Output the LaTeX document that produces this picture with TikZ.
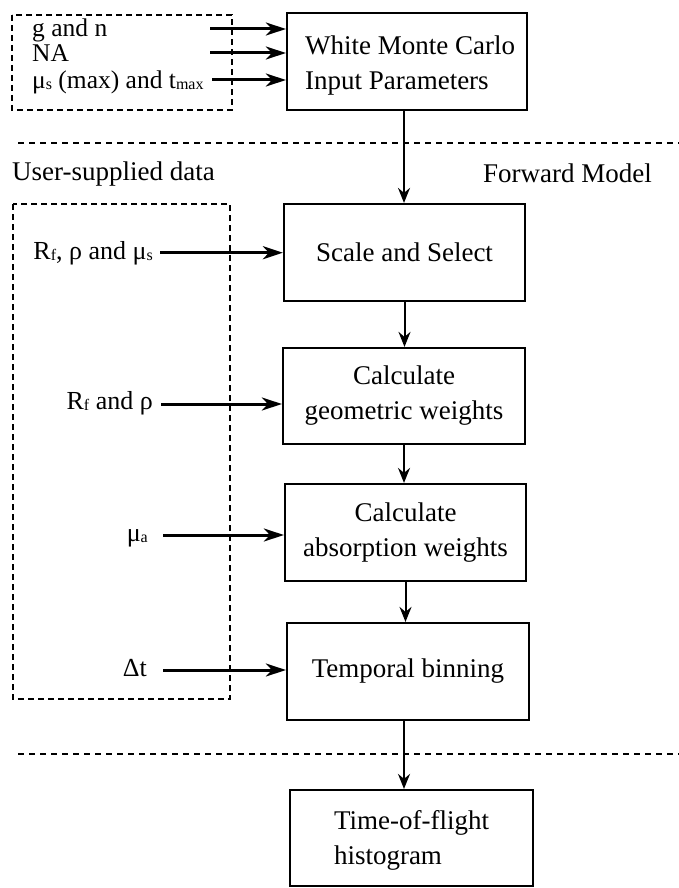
\documentclass[tikz,border=0pt]{standalone}
\usepackage{fontspec}
\setmainfont{Liberation Serif}
\usetikzlibrary{arrows.meta}
\newcommand{\sbs}[1]{\raisebox{-1pt}{\fontsize{16}{16}\selectfont #1}}
\begin{document}
\begin{tikzpicture}[x=1pt,y=-1pt,
  box/.style={draw, line width=2.2pt, inner sep=0pt, font=\fontsize{27}{35}\selectfont},
  boxtext/.style={inner sep=0pt, font=\fontsize{27}{35}\selectfont},
  inarrow/.style={line width=3pt, -{Stealth[length=20pt,width=13pt,inset=6pt]}},
  downarrow/.style={line width=2pt, -{Stealth[length=15pt,width=12pt,inset=5pt]}},
  sepline/.style={line width=2pt, dash pattern=on 6pt off 5pt},
  dbox/.style={line width=2pt, dash pattern=on 6pt off 4pt},
  lab/.style={font=\fontsize{26}{28}\selectfont, inner sep=0pt},
  toplab/.style={font=\fontsize{25.5}{28}\selectfont, inner sep=0pt},
  seclab/.style={font=\fontsize{27}{29}\selectfont, inner sep=0pt},
]
\useasboundingbox (0,0) rectangle (679,888);

% dashed frames and separators
\draw[dbox] (12,15) rectangle (232,110);
\draw[dbox] (13,204) rectangle (230,699);
\draw[sepline] (18,143) -- (679,143);
\draw[sepline] (18,754) -- (679,754);

% boxes
\node[box, minimum width=240pt, minimum height=97pt] (wmc) at (407,61.5) {};
\node[boxtext, align=left] (wmct) at (410,66) {White Monte Carlo\\Input Parameters};
\node[box, minimum width=241pt, minimum height=97pt] (scale) at (404.5,252.5) {Scale and Select};
\node[box, minimum width=242pt, minimum height=96pt, align=center] (geom) at (404,396) {Calculate\\geometric weights};
\node[box, minimum width=241pt, minimum height=97pt, align=center] (absb) at (405.5,532.5) {Calculate\\absorption weights};
\node[box, minimum width=242pt, minimum height=97pt] (temp) at (408,671.5) {\raisebox{3pt}{Temporal binning}};
\node[box, minimum width=243pt, minimum height=96pt] (hist) at (411.5,838) {};
\node[boxtext, align=left] (histt) at (411.5,840) {Time-of-flight\\histogram};

% section labels
\node[seclab, anchor=base west] (usd) at (12,180) {User-supplied data};
\node[seclab, anchor=base west] (fwd) at (483,182) {Forward Model};

% top inputs
\node[toplab, anchor=base west] (tg) at (32,37) {g and n};
\node[toplab, anchor=base west] (tna) at (32,61.5) {NA};
\node[toplab, anchor=base west] (tmu) at (32,89) {μ\sbs{s} (max) and t\sbs{max}};
\coordinate (ag) at (210,29);
\coordinate (ana) at (210,53);
\coordinate (amu) at (212,80);
\draw[inarrow] (ag) -- (ag -| wmc.west);
\draw[inarrow] (ana) -- (ana -| wmc.west);
\draw[inarrow] (amu) -- (amu -| wmc.west);

% left inputs
\node[lab, anchor=base east] (trf1) at (153,259) {R\sbs{f}, ρ and μ\sbs{s}};
\node[lab, anchor=base east] (trf2) at (153,409) {R\sbs{f} and ρ};
\node[lab, anchor=base east] (tmua) at (148,541) {μ\sbs{a}};
\node[lab, anchor=base east] (tdt) at (147,676) {Δt};
\coordinate (a1) at (160,252.7);
\coordinate (a2) at (161,404);
\coordinate (a3) at (163,535);
\coordinate (a4) at (163,670);
\draw[inarrow] (a1) -- (a1 -| scale.west);
\draw[inarrow] (a2) -- (a2 -| geom.west);
\draw[inarrow] (a3) -- (a3 -| absb.west);
\draw[inarrow] (a4) -- (a4 -| temp.west);

% flow
\draw[downarrow] ([xshift=-3pt]wmc.south) -- ([xshift=-3pt]wmc.south |- scale.north);
\draw[downarrow] (scale.south) -- (scale.south |- geom.north);
\draw[downarrow] (geom.south) -- (geom.south |- absb.north);
\draw[downarrow] (absb.south) -- (absb.south |- temp.north);
\draw[downarrow] ([xshift=-4pt]temp.south) -- ([xshift=-4pt]temp.south |- hist.north);
\end{tikzpicture}
\end{document}
